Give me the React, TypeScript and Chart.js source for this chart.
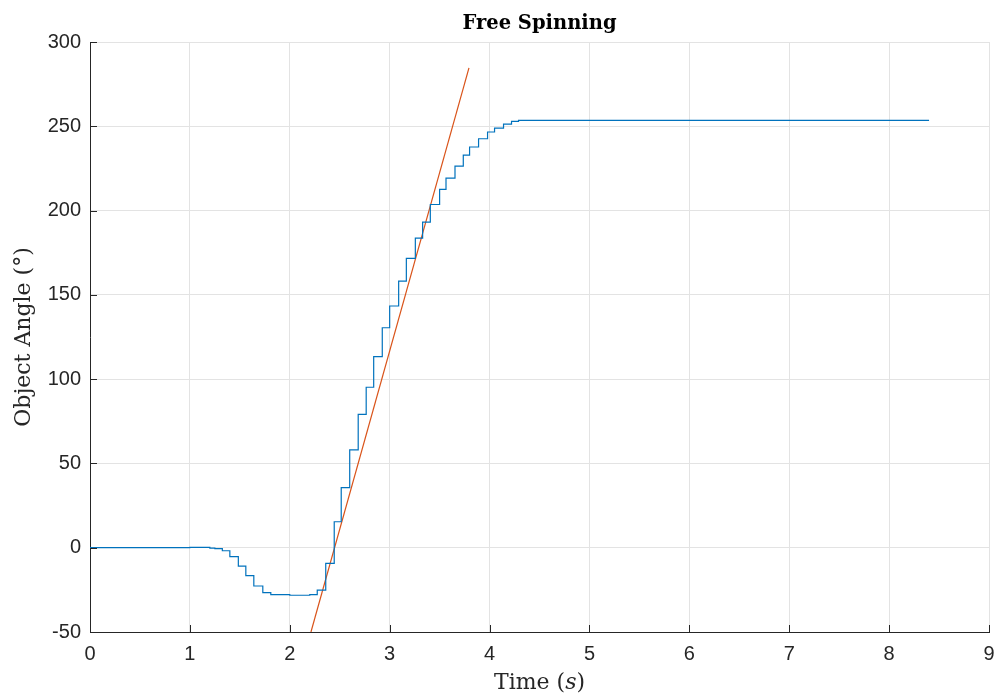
import React, { useEffect, useRef } from "react";
import { Chart, registerables } from "chart.js";

Chart.register(...registerables);

// Measured object angle (deg) – sample-and-hold steps
const angleTimes = [
  0, 0.5, 1.0, 1.2, 1.25, 1.325, 1.4, 1.485, 1.56, 1.64, 1.73, 1.81, 2.0, 2.2,
  2.275, 2.36, 2.445, 2.515, 2.6, 2.685, 2.765, 2.84, 2.926, 3.0, 3.09, 3.167,
  3.257, 3.33, 3.407, 3.5, 3.564, 3.654, 3.737, 3.8, 3.89, 3.98, 4.05, 4.14,
  4.22, 4.29, 8.4,
];
const angleValues = [
  0, 0.1, 0.2, -0.2, -0.5, -1.8, -5.3, -10.9, -16.6, -22.7, -26.7, -27.8, -28.2,
  -27.8, -25.1, -9.3, 15.4, 35.6, 58.0, 79.1, 95.2, 113.3, 130.5, 143.4, 158.2,
  171.7, 183.7, 193.2, 203.6, 212.6, 219.3, 226.4, 232.9, 237.7, 242.6, 246.6,
  248.9, 251.3, 252.9, 253.5, 253.5,
];

// Linear fit line
const fitTimes = [2.212, 3.794];
const fitValues = [-50, 284.6];

const xTicks = [0, 1, 2, 3, 4, 5, 6, 7, 8, 9];
const yTicks = [-50, 0, 50, 100, 150, 200, 250, 300];

const TITLE = "Free Spinning";
const Y_TITLE = "Object Angle (°)";

const AXIS_COLOR = "#262626";
const GRID_COLOR = "#e3e3e3";

const innerTicksPlugin = {
  id: "innerTicks",
  afterDraw(chart: any) {
    const { ctx, chartArea, scales } = chart;
    ctx.save();
    ctx.strokeStyle = AXIS_COLOR;
    ctx.lineWidth = 1;
    ctx.beginPath();
    xTicks.forEach((t) => {
      const x = Math.round(scales.x.getPixelForValue(t)) + 0.5;
      ctx.moveTo(x, chartArea.bottom);
      ctx.lineTo(x, chartArea.bottom - 7);
    });
    yTicks.forEach((t) => {
      const y = Math.round(scales.y.getPixelForValue(t)) + 0.5;
      ctx.moveTo(chartArea.left, y);
      ctx.lineTo(chartArea.left + 7, y);
    });
    ctx.stroke();

    // x-axis title with italic variable
    const cx = (chartArea.left + chartArea.right) / 2;
    const cy = 683;
    const normal = "22px 'DejaVu Serif'";
    const italic = "italic 22px 'DejaVu Serif'";
    const parts: [string, string][] = [
      ["Time (", normal],
      ["s", italic],
      [")", normal],
    ];
    let total = 0;
    parts.forEach(([s, f]) => {
      ctx.font = f;
      total += ctx.measureText(s).width;
    });
    let x = cx - total / 2;
    ctx.fillStyle = AXIS_COLOR;
    ctx.textBaseline = "middle";
    ctx.textAlign = "left";
    parts.forEach(([s, f]) => {
      ctx.font = f;
      ctx.fillText(s, x, cy);
      x += ctx.measureText(s).width;
    });
    ctx.restore();
  },
};

export default function App() {
  const canvasRef = useRef<HTMLCanvasElement | null>(null);

  useEffect(() => {
    if (!canvasRef.current) return;
    const chart = new Chart(canvasRef.current, {
      type: "line",
      data: {
        datasets: [
          {
            label: "Measured",
            data: angleTimes.map((t, i) => ({ x: t, y: angleValues[i] })),
            borderColor: "#0072BD",
            backgroundColor: "#0072BD",
            borderWidth: 1.2,
            pointRadius: 0,
            stepped: "before",
            fill: false,
          },
          {
            label: "Fit",
            data: fitTimes.map((t, i) => ({ x: t, y: fitValues[i] })),
            borderColor: "#D95319",
            backgroundColor: "#D95319",
            borderWidth: 1.2,
            pointRadius: 0,
            fill: false,
          },
        ],
      },
      options: {
        responsive: false,
        animation: false,
        devicePixelRatio: 1,
        layout: { padding: { left: 0, right: 10, top: 0, bottom: 0 } },
        plugins: {
          legend: { display: false },
          tooltip: { enabled: false },
          title: {
            display: true,
            text: TITLE,
            fullSize: false,
            color: "#000000",
            font: { family: "'DejaVu Serif'", size: 19.5, weight: "bold" },
            padding: { top: 12, bottom: 6.6 },
          },
        },
        scales: {
          x: {
            type: "linear",
            min: 0,
            max: 9,
            afterBuildTicks: (scale: any) => {
              scale.ticks = xTicks.map((v) => ({ value: v }));
            },
            afterFit: (scale: any) => {
              scale.height = 68;
              scale.paddingLeft = 0;
              scale.paddingRight = 0;
            },
            ticks: {
              color: AXIS_COLOR,
              font: { family: "'Liberation Sans'", size: 20 },
              padding: 10,
              maxRotation: 0,
              autoSkip: false,
            },
            grid: {
              color: GRID_COLOR,
              drawTicks: false,
              tickLength: 0,
            },
            border: { color: AXIS_COLOR, width: 1 },
            title: { display: false },
          },
          y: {
            type: "linear",
            min: -50,
            max: 300,
            afterBuildTicks: (scale: any) => {
              scale.ticks = yTicks.map((v) => ({ value: v }));
            },
            afterFit: (scale: any) => {
              scale.width = 90;
            },
            ticks: {
              color: AXIS_COLOR,
              font: { family: "'Liberation Sans'", size: 20 },
              padding: 9,
              autoSkip: false,
            },
            grid: {
              color: GRID_COLOR,
              drawTicks: false,
              tickLength: 0,
            },
            border: { color: AXIS_COLOR, width: 1 },
            title: {
              display: true,
              text: Y_TITLE,
              color: AXIS_COLOR,
              font: { family: "'DejaVu Serif'", size: 22 },
              padding: { top: 11, bottom: 0 },
            },
          },
        },
      },
      plugins: [innerTicksPlugin],
    } as any);
    return () => chart.destroy();
  }, []);

  return (
    <div style={{ position: "absolute", left: 0, top: 0, width: 999, height: 700, background: "#ffffff" }}>
      <canvas ref={canvasRef} width={999} height={700} style={{ display: "block" }} />
    </div>
  );
}
